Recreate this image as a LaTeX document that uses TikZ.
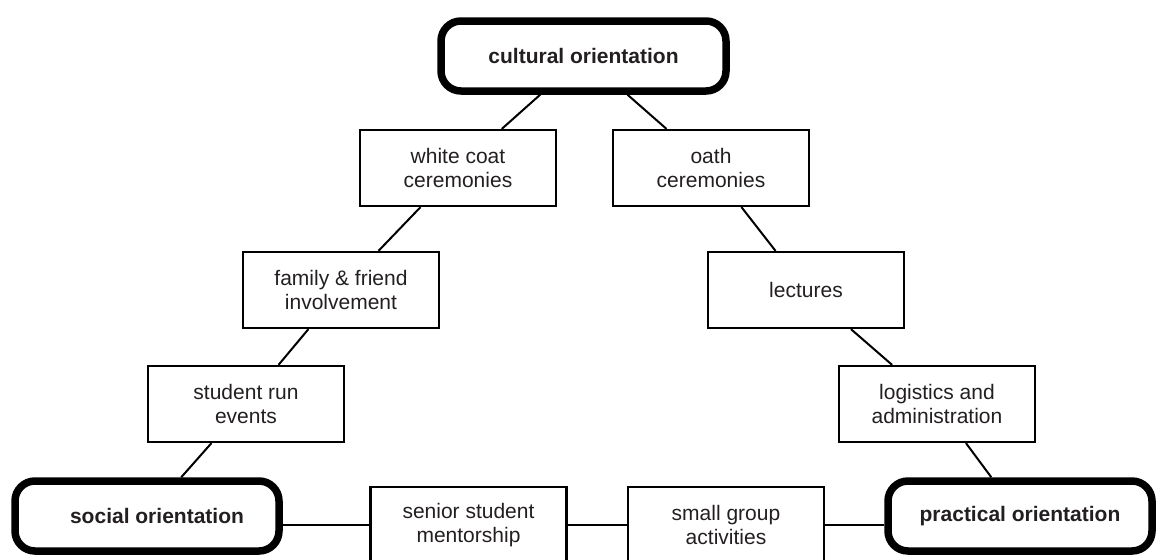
\documentclass[tikz,border=0pt]{standalone}
\usepackage{fontspec}
\setmainfont{Liberation Sans}
\definecolor{txt}{RGB}{35,31,32}
\begin{document}
\begin{tikzpicture}[x=1pt,y=-1pt,
  box/.style={draw, line width=2.2pt, minimum width=196pt, minimum height=76pt, inner sep=0pt, align=center, font=\fontsize{21}{24}\selectfont, text=txt},
  hub/.style={draw, line width=7.5pt, rounded corners=20pt, minimum height=70pt, inner sep=0pt, align=center, font=\fontsize{21}{24}\selectfont\bfseries, text=txt},
  link/.style={line width=2pt}]
\useasboundingbox (0,0) rectangle (1163,560);
\node[hub, minimum width=285pt] (cult) at (583.5,56) {cultural orientation};
\node[box] (wc) at (458,168) {white coat\\ceremonies};
\node[box] (oath) at (711,168) {oath\\ceremonies};
\node[box] (fam) at (341,290) {family \& friend\\involvement};
\node[box] (lect) at (806,290) {lectures};
\node[box] (stu) at (246,404) {student run\\events};
\node[box] (log) at (937,404) {logistics and\\administration};
\node[hub, minimum width=264pt] (soc) at (147,516) {\hspace*{20pt}social orientation};
\node[box] (sen) at (468.5,525) {senior student\\mentorship};
\node[box] (small) at (726,525) {small group\\activities};
\node[hub, minimum width=264pt] (prac) at (1020,516) {practical orientation};
\draw[link] (cult) -- (wc);
\draw[link] (cult) -- (oath);
\draw[link] (wc) -- (fam);
\draw[link] (fam) -- (stu);
\draw[link] (stu) -- (soc);
\draw[link] (oath) -- (lect);
\draw[link] (lect) -- (log);
\draw[link] (log) -- (prac);
\draw[link] (sen.west) -- (sen.west -| soc.east);
\draw[link] (sen) -- (small);
\draw[link] (small.east) -- (small.east -| prac.west);
\end{tikzpicture}
\end{document}
